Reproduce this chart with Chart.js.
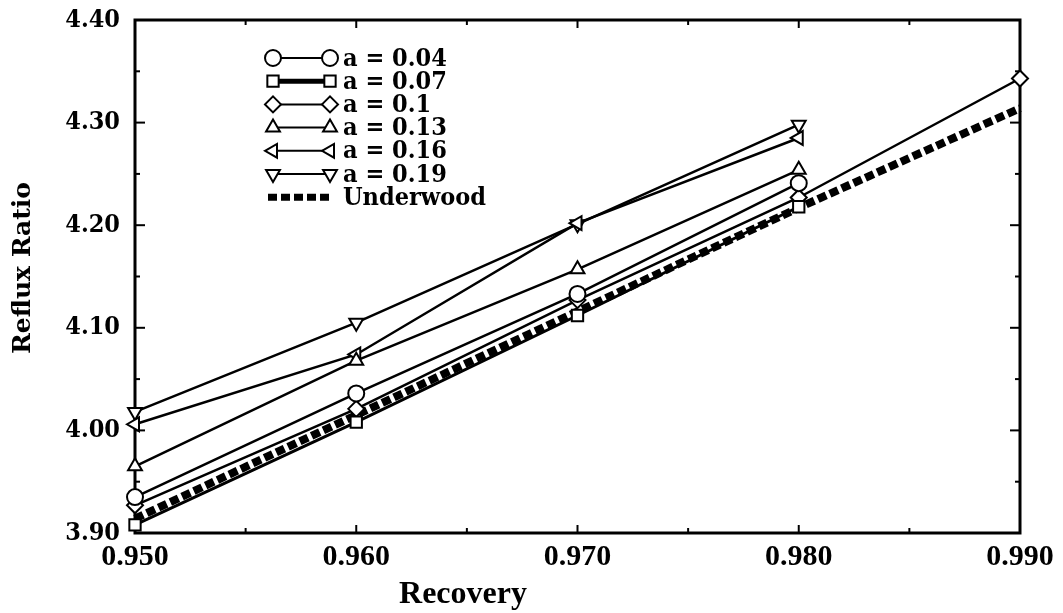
<!DOCTYPE html>
<html>
<head>
<meta charset="utf-8">
<style>
  html, body { margin: 0; padding: 0; background: #ffffff; }
  canvas { display: block; }
</style>
<script src="https://cdn.jsdelivr.net/npm/chart.js@4/dist/chart.umd.min.js"></script>
</head>
<body>
<canvas id="chart" width="1063" height="613"></canvas>
<script>
// Recovery values on the x axis
const recovery = [0.95, 0.96, 0.97, 0.98, 0.99];

// Reflux ratio for each value of a
const a004 = [3.935, 4.036, 4.133, 4.241];
const a007 = [3.908, 4.008, 4.112, 4.218];
const a010 = [3.927, 4.021, 4.127, 4.227, 4.343];
const a013 = [3.965, 4.068, 4.157, 4.254];
const a016 = [4.006, 4.074, 4.202, 4.285];
const a019 = [4.018, 4.105, 4.201, 4.298];
const underwood = [3.914, 4.015, 4.116, 4.217, 4.314];

// Tick values and legend labels
const xTickValues = [0.95, 0.96, 0.97, 0.98, 0.99];
const yTickValues = [3.90, 4.00, 4.10, 4.20, 4.30, 4.40];
const seriesLabels = ['a = 0.04', 'a = 0.07', 'a = 0.1', 'a = 0.13', 'a = 0.16', 'a = 0.19', 'Underwood'];

const TIMES = '"Liberation Serif", "Times New Roman", serif';
const DEJAVU = '"DejaVu Serif", serif';
const DEJAVU_COND = '"DejaVu Serif Condensed", "DejaVu Serif", serif';

function toPoints(values) {
  return values.map((v, i) => ({ x: recovery[i], y: v }));
}

function markerSeries(label, values, style, rotation, lineWidth) {
  return {
    label: label,
    data: toPoints(values),
    borderColor: '#000',
    borderWidth: lineWidth,
    pointStyle: style,
    rotation: rotation,
    pointRadius: 8,
    pointBorderWidth: 2,
    pointBackgroundColor: '#fff',
    pointBorderColor: '#000',
    tension: 0,
    clip: false
  };
}

const datasets = [
  markerSeries(seriesLabels[0], a004, 'circle', 0, 2.5),
  markerSeries(seriesLabels[1], a007, 'rect', 0, 3),
  markerSeries(seriesLabels[2], a010, 'rectRot', 0, 2.5),
  markerSeries(seriesLabels[3], a013, 'triangle', 0, 2.5),
  markerSeries(seriesLabels[4], a016, 'triangle', -90, 2.5),
  markerSeries(seriesLabels[5], a019, 'triangle', 180, 2.5),
  {
    label: seriesLabels[6],
    data: toPoints(underwood),
    borderColor: '#000',
    borderWidth: 8,
    borderDash: [9, 4],
    borderCapStyle: 'butt',
    pointRadius: 0,
    tension: 0,
    clip: false
  }
];

// Box frame with inward major and minor ticks on all four sides
const framePlugin = {
  id: 'frame',
  beforeDatasetsDraw(chart) {
    const { ctx, chartArea: a, scales } = chart;
    const xs = scales.x, ys = scales.y;
    ctx.save();
    ctx.strokeStyle = '#000';
    ctx.lineWidth = 3;
    ctx.strokeRect(a.left, a.top, a.right - a.left, a.bottom - a.top);
    ctx.lineWidth = 2;
    const tick = (x1, y1, x2, y2) => { ctx.beginPath(); ctx.moveTo(x1, y1); ctx.lineTo(x2, y2); ctx.stroke(); };
    const xv = xs.ticks.map(t => t.value);
    xv.forEach((v, i) => {
      const px = xs.getPixelForValue(v);
      tick(px, a.bottom, px, a.bottom - 8);
      tick(px, a.top, px, a.top + 8);
      if (i < xv.length - 1) {
        const mx = xs.getPixelForValue((v + xv[i + 1]) / 2);
        tick(mx, a.bottom, mx, a.bottom - 5);
        tick(mx, a.top, mx, a.top + 5);
      }
    });
    const yv = ys.ticks.map(t => t.value);
    yv.forEach((v, i) => {
      const py = ys.getPixelForValue(v);
      tick(a.left, py, a.left + 10, py);
      tick(a.right, py, a.right - 10, py);
      if (i < yv.length - 1) {
        const my = ys.getPixelForValue((v + yv[i + 1]) / 2);
        tick(a.left, my, a.left + 5, my);
        tick(a.right, my, a.right - 5, my);
      }
    });
    ctx.restore();
  }
};

// Legend with marker–line–marker samples, and the two axis titles
const legendPlugin = {
  id: 'sampleLegend',
  afterDraw(chart) {
    const ctx = chart.ctx;
    ctx.save();
    const x0 = 273, x1 = 330, textX = 343, top = 58, step = 23.2;
    chart.data.datasets.forEach((ds, i) => {
      const y = top + i * step;
      ctx.strokeStyle = '#000';
      ctx.setLineDash(ds.borderDash || []);
      ctx.lineWidth = ds.pointRadius === 0 ? 7 : (ds.borderWidth === 3 ? 5 : 2);
      ctx.beginPath();
      ctx.moveTo(ds.pointRadius === 0 ? x0 - 5 : x0, y);
      ctx.lineTo(x1, y);
      ctx.stroke();
      ctx.setLineDash([]);
      if (ds.pointRadius) {
        ctx.fillStyle = '#fff';
        ctx.lineWidth = 2;
        const opts = { pointStyle: ds.pointStyle, rotation: ds.rotation, radius: 8, borderWidth: 2 };
        Chart.helpers.drawPoint(ctx, opts, x0, y);
        Chart.helpers.drawPoint(ctx, opts, x1, y);
      }
      ctx.fillStyle = '#000';
      ctx.font = 'bold 25px ' + DEJAVU_COND;
      ctx.textAlign = 'left';
      ctx.textBaseline = 'middle';
      ctx.fillText(ds.label, textX, y + 1);
    });

    ctx.fillStyle = '#000';
    ctx.font = 'bold 32px ' + TIMES;
    ctx.textAlign = 'center';
    ctx.textBaseline = 'middle';
    ctx.fillText('Recovery', 463, 595);

    ctx.translate(23, 268);
    ctx.rotate(-Math.PI / 2);
    ctx.font = 'bold 25px ' + DEJAVU;
    ctx.fillText('Reflux Ratio', 0, 0);
    ctx.restore();
  }
};

new Chart(document.getElementById('chart'), {
  type: 'line',
  data: { datasets: datasets },
  options: {
    responsive: false,
    animation: false,
    events: [],
    layout: { padding: { top: 20, right: 43, left: 0, bottom: 0 } },
    plugins: { legend: { display: false }, tooltip: { enabled: false } },
    scales: {
      x: {
        type: 'linear',
        min: 0.95,
        max: 0.99,
        afterBuildTicks: s => { s.ticks = xTickValues.map(v => ({ value: v })); },
        afterFit: s => { s.height = 80; s.paddingLeft = 0; s.paddingRight = 0; },
        grid: { display: false, drawTicks: false },
        border: { display: false },
        ticks: {
          padding: 6,
          color: '#000',
          font: { family: TIMES, size: 30, weight: 'bold' },
          callback: v => v.toFixed(3)
        }
      },
      y: {
        type: 'linear',
        min: 3.9,
        max: 4.4,
        afterBuildTicks: s => { s.ticks = yTickValues.map(v => ({ value: v })); },
        afterFit: s => { s.width = 135; s.paddingTop = 0; s.paddingBottom = 0; },
        grid: { display: false, drawTicks: false },
        border: { display: false },
        ticks: {
          padding: 15,
          color: '#000',
          font: { family: DEJAVU_COND, size: 25, weight: 'bold' },
          callback: v => v.toFixed(2)
        }
      }
    }
  },
  plugins: [framePlugin, legendPlugin]
});
</script>
</body>
</html>
